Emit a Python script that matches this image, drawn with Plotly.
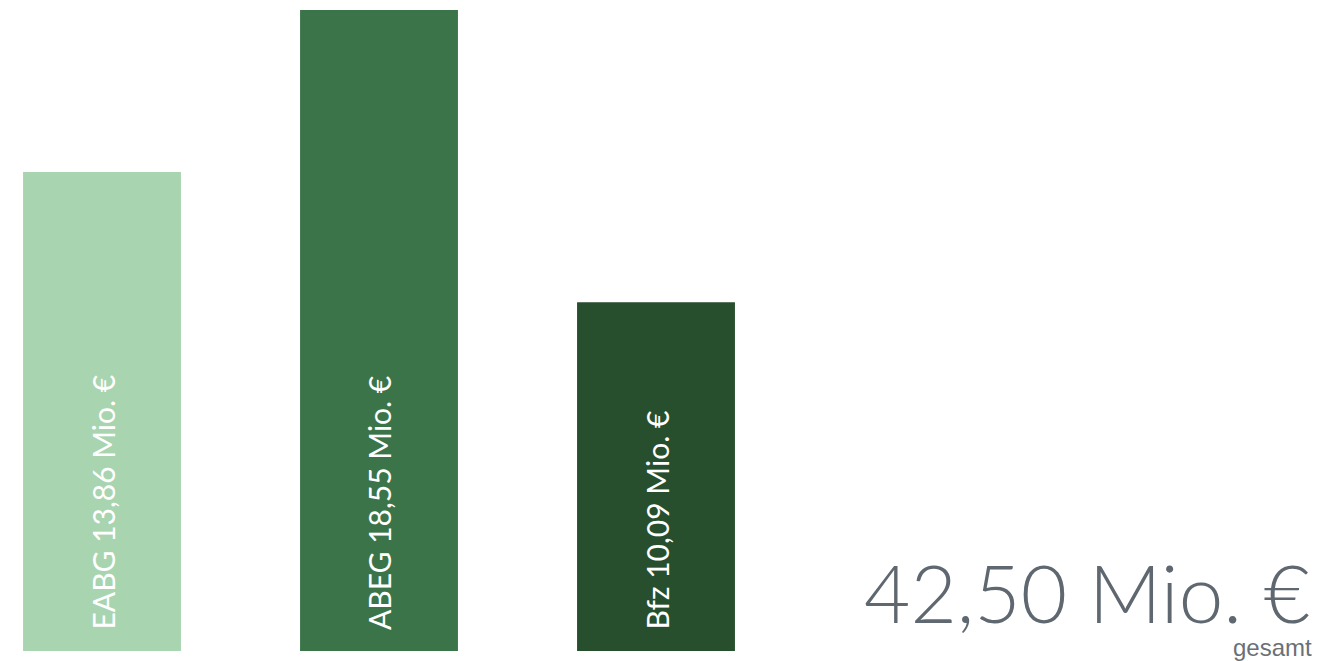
import plotly.graph_objects as go

categories = ["EABG", "ABEG", "Bfz"]
values = [13.86, 18.55, 10.09]
value_labels = ["13,86", "18,55", "10,09"]
colors = ["#a8d4b0", "#3b7448", "#274e2d"]
positions = [0, 1, 2]
total_label = "42,50 Mio. €"
total_sub = "gesamt"

fig = go.Figure()
fig.add_trace(go.Bar(
    x=positions, y=values, width=0.57,
    marker=dict(color=colors, line=dict(width=0)),
    hoverinfo="skip",
))

for p, c, v in zip(positions, categories, value_labels):
    fig.add_annotation(
        x=p, y=0, xref="x", yref="y",
        text=f"{c} {v} Mio. €", textangle=-90, showarrow=False,
        xanchor="center", yanchor="bottom", yshift=19,
        font=dict(family="Lato", size=30, color="white", weight=400),
    )

fig.add_annotation(
    x=1, y=0, xref="paper", yref="paper", xanchor="right", yanchor="bottom",
    text=total_label, showarrow=False, xshift=-8, yshift=9,
    font=dict(family="Lato", size=80, color="#5f6870", weight=300),
)
fig.add_annotation(
    x=1, y=0, xref="paper", yref="paper", xanchor="right", yanchor="top",
    text=total_sub, showarrow=False, xshift=-6, yshift=19,
    font=dict(family="Liberation Sans", size=24, color="#6b7075"),
)

fig.update_layout(
    width=1320, height=661,
    margin=dict(l=0, r=0, t=10, b=10),
    paper_bgcolor="white", plot_bgcolor="white",
    showlegend=False,
    xaxis=dict(range=[-102 / 277, (1320 - 102) / 277], visible=False, fixedrange=True),
    yaxis=dict(range=[0, 18.55], visible=False, fixedrange=True),
)
fig.write_html("out.html")
